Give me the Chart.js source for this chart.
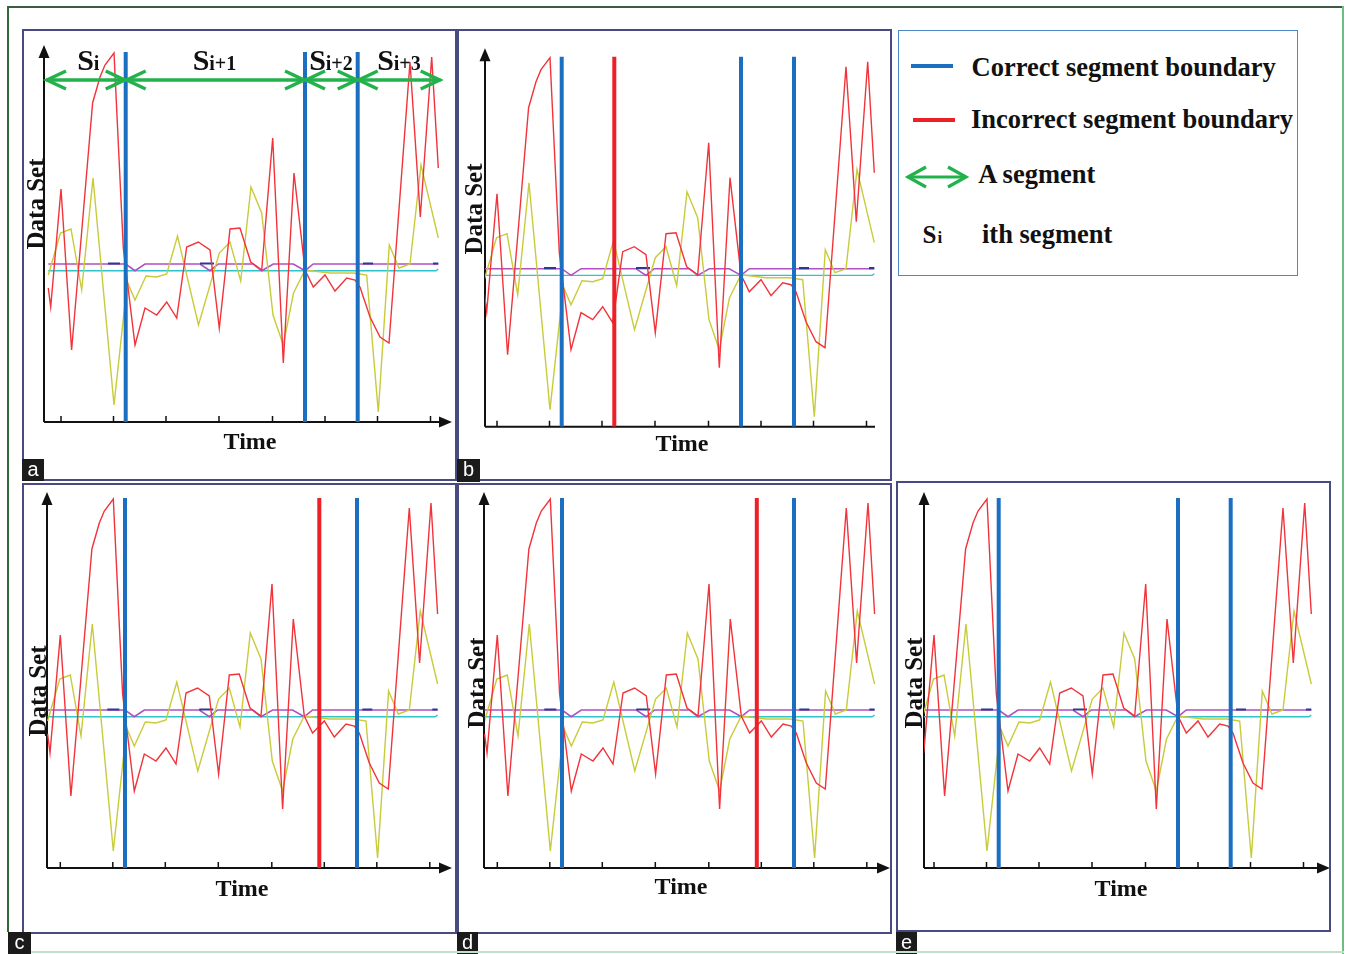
<!DOCTYPE html>
<html>
<head>
<meta charset="utf-8">
<title>Segment boundaries</title>
<script src="https://cdn.jsdelivr.net/npm/chart.js@4.4.1/dist/chart.umd.min.js"></script>
<style>
  html, body { margin: 0; padding: 0; background: #fff; }
  #page { position: relative; width: 1346px; height: 954px; overflow: hidden; background: #fff; }
  .box { position: absolute; box-sizing: border-box; pointer-events: none; }
  canvas { position: absolute; }
  .serif { position: absolute; font-family: "Liberation Serif", "Times New Roman", serif; font-weight: bold; color: #111; white-space: nowrap; line-height: 1; }
  .tag { position: absolute; background: #1b1b1b; color: #fff; font-family: "Liberation Sans", Arial, sans-serif; font-size: 20px; line-height: 21px; text-align: center; }
</style>
</head>
<body>
<div id="page"></div>
<script>
// Colores de la figura
const COLORES = {
    red: '#f2333a',
    yellow: '#c8cb3a',
    purple: '#b24fc2',
    cyan: '#2fc4cc',
    navy: '#2c3b92',
    correct: '#1c6fc0',
    wrong: '#ec2027',
    green: '#22b24c',
    axis: '#111111'
};

const redTime  = [4.3, 6.7, 17, 27.6, 38, 48.6, 56, 61, 70, 79.3, 91, 101, 112.7, 122.7, 132.7, 142.7, 154.3, 166, 175.3, 186, 196, 206.7, 217.7, 228.7, 239.3, 250, 261, 269.3, 281, 291, 302.7, 311, 316, 326, 336, 345, 366, 376.3, 387.7, 394.3];
const redValue = [134, 115, 233, 72, 194, 319, 345, 357, 369, 174, 77, 114, 107, 120, 104, 175, 180, 172, 94, 193, 194, 160, 152, 284, 59, 249, 152, 135, 147, 131, 144, 142, 135, 105, 85, 79, 360, 205, 365, 254];

const yellowTime  = [4.3, 16.5, 27, 37.7, 49, 70, 83.3, 91, 102, 112.7, 122.7, 133.5, 154.5, 175.3, 186, 196.7, 207, 217.7, 229, 239.3, 249.5, 261, 286, 309.5, 322.7, 334.3, 345.3, 355, 366, 377, 394.3];
const yellowValue = [147, 189, 193, 132, 244, 17, 140, 122, 146, 145, 148, 186, 97, 169, 180, 141, 235, 209, 107, 77, 129, 152, 149, 149, 147, 10, 177, 154, 158, 257, 184];

const purpleTime  = [4.3, 81.7, 91, 101, 156, 166, 174.3, 209.3, 217.7, 229.3, 249.3, 261, 269.3, 394.3];
const purpleValue = [158, 158, 151.3, 158, 158, 151.3, 158, 158, 151.3, 158, 158, 151.3, 158, 158];

const cyanTime  = [4.3, 392, 394.3];
const cyanValue = [151.3, 151.3, 153];

const navyTime  = [64, 76, 77, 156, 170, 171, 319, 329, 330, 389, 394.3];
const navyValue = [158.5, 158.5, null, 158.5, 158.5, null, 158.5, 158.5, null, 158.5, 158.5];

const tickTime = [17, 69.5, 122, 175, 228.5, 281, 333.5, 386.5];

// Fronteras de segmento por panel
const correctA = [81.7, 261, 313.7];
const correctB = [81.7, 261, 314];
const wrongB   = [134.3];
const correctC = [81.7, 313.7];
const wrongC   = [276];
const correctD = [81.7, 313.7];
const wrongD   = [276.5];
const correctE = [81.7, 261, 313.7];

const boundaryTop = 370;
const arrowLevel = 342;
const arrowEnds = [2, 81.7, 261, 313.7, 396.7];
const segmentNames = ['i', 'i+1', 'i+2', 'i+3'];

// Geometria de cada panel: marco [x, y, w, h], ejes [x0, x1, y0, y1]
const panels = [
    { tag: 'a', frame: [22, 29, 435, 452], axes: [44, 452, 422, 45], time: [0, 408], vmax: 377, arrowX: true,
      correct: correctA, wrong: [], arrows: true, timeLbl: [250, 440.5], dataLbl: [35, 203.5], tagBox: [22, 459, 22, 22] },
    { tag: 'b', frame: [457, 29, 435, 452], axes: [485, 875, 426.7, 48.3], time: [5, 395], vmax: 378.4, arrowX: false,
      correct: correctB, wrong: wrongB, arrows: false, timeLbl: [682, 443], dataLbl: [473, 209], tagBox: [457, 459, 23, 23] },
    { tag: 'c', frame: [22, 483, 435, 451], axes: [47, 452, 868, 492], time: [3.7, 408.7], vmax: 376, arrowX: true,
      correct: correctC, wrong: wrongC, arrows: false, timeLbl: [242, 888], dataLbl: [37, 691], tagBox: [8, 932, 23, 22] },
    { tag: 'd', frame: [457, 483, 435, 451], axes: [484, 890, 868, 492], time: [3.7, 409.7], vmax: 376, arrowX: true,
      correct: correctD, wrong: wrongD, arrows: false, timeLbl: [681, 886], dataLbl: [476, 683], tagBox: [457, 932, 21, 22] },
    { tag: 'e', frame: [896, 481, 435, 451], axes: [924, 1330, 868, 492], time: [7, 413], vmax: 376, arrowX: true,
      correct: correctE, wrong: [], arrows: false, timeLbl: [1121, 888], dataLbl: [913, 683], tagBox: [896, 932, 21, 22] }
];

const page = document.getElementById('page');

function pares(ts, vs) {
    return ts.map((t, i) => ({ x: t, y: vs[i] }));
}

function div(cls, css, html) {
    const d = document.createElement('div');
    d.className = cls;
    d.style.cssText = css;
    if (html !== undefined) d.innerHTML = html;
    page.appendChild(d);
    return d;
}

// texto colocado por su linea base (Liberation Serif, line-height 1)
function texto(str, left, baseline, size) {
    const top = baseline - 0.8375 * size;
    return div('serif', `left:${left}px;top:${top}px;font-size:${size}px;`, str);
}

/**
 * Ejes con flechas y marcas hacia arriba
 */
const ejesPlugin = {
    id: 'ejes',
    beforeDatasetsDraw(chart, args, opts) {
        const ctx = chart.ctx;
        const area = chart.chartArea;
        const xs = chart.scales.x;
        const x0 = area.left, x1 = area.right, y0 = area.bottom, y1 = area.top;
        ctx.save();
        ctx.strokeStyle = COLORES.axis;
        ctx.fillStyle = COLORES.axis;
        ctx.lineWidth = 2;
        ctx.beginPath();
        ctx.moveTo(x0, y0);
        ctx.lineTo(opts.arrowX ? x1 - 10 : x1, y0);
        ctx.moveTo(x0, y0);
        ctx.lineTo(x0, y1 + 10);
        ctx.stroke();

        ctx.beginPath();
        ctx.moveTo(x0, y1);
        ctx.lineTo(x0 - 5.5, y1 + 13);
        ctx.lineTo(x0 + 5.5, y1 + 13);
        ctx.closePath();
        ctx.fill();
        if (opts.arrowX) {
            ctx.beginPath();
            ctx.moveTo(x1, y0);
            ctx.lineTo(x1 - 13, y0 - 5.5);
            ctx.lineTo(x1 - 13, y0 + 5.5);
            ctx.closePath();
            ctx.fill();
        }

        ctx.lineWidth = 1.5;
        ctx.beginPath();
        tickTime.forEach(t => {
            const px = xs.getPixelForValue(t);
            if (px > x0 + 2 && px < x1 - 4) {
                ctx.moveTo(px, y0);
                ctx.lineTo(px, y0 - 6);
            }
        });
        ctx.stroke();
        ctx.restore();
    }
};

/**
 * Puntas abiertas de las flechas de segmento
 */
const flechasPlugin = {
    id: 'flechas',
    afterDatasetsDraw(chart) {
        const ctx = chart.ctx;
        ctx.save();
        ctx.strokeStyle = COLORES.green;
        ctx.lineWidth = 3.5;
        ctx.lineCap = 'butt';
        chart.data.datasets.forEach((ds, i) => {
            if (!ds.flecha) return;
            const pts = chart.getDatasetMeta(i).data;
            const a = pts[0], b = pts[pts.length - 1];
            ctx.beginPath();
            ctx.moveTo(a.x + 20, a.y - 9);
            ctx.lineTo(a.x + 1, a.y);
            ctx.lineTo(a.x + 20, a.y + 9);
            ctx.moveTo(b.x - 20, b.y - 9);
            ctx.lineTo(b.x - 1, b.y);
            ctx.lineTo(b.x - 20, b.y + 9);
            ctx.stroke();
        });
        ctx.restore();
    }
};

function serie(data, color, width, order) {
    return { data, borderColor: color, borderWidth: width, pointRadius: 0, fill: false, tension: 0, order, spanGaps: false };
}

panels.forEach(p => {
    const [fx, fy, fw, fh] = p.frame;
    const [x0, x1, y0, y1] = p.axes;

    const cv = document.createElement('canvas');
    cv.width = fw;
    cv.height = fh;
    cv.style.left = fx + 'px';
    cv.style.top = fy + 'px';
    page.appendChild(cv);

    const datasets = [
        serie(pares(cyanTime, cyanValue), COLORES.cyan, 1.4, 9),
        serie(pares(purpleTime, purpleValue), COLORES.purple, 1.6, 8),
        serie(pares(navyTime, navyValue), COLORES.navy, 2.2, 7),
        serie(pares(yellowTime, yellowValue), COLORES.yellow, 1.4, 6),
        serie(pares(redTime, redValue), COLORES.red, 1.4, 5)
    ];
    p.correct.forEach(b => datasets.push(serie([{ x: b, y: 0 }, { x: b, y: boundaryTop }], COLORES.correct, 4, 1)));
    p.wrong.forEach(b => datasets.push(serie([{ x: b, y: 0 }, { x: b, y: boundaryTop }], COLORES.wrong, 4, 1)));
    if (p.arrows) {
        for (let i = 0; i < arrowEnds.length - 1; i++) {
            const ds = serie([{ x: arrowEnds[i], y: arrowLevel }, { x: arrowEnds[i + 1], y: arrowLevel }], COLORES.green, 3.5, 0);
            ds.flecha = true;
            datasets.push(ds);
        }
    }

    new Chart(cv.getContext('2d'), {
        type: 'line',
        data: { datasets },
        options: {
            responsive: false,
            animation: false,
            events: [],
            layout: { padding: { left: x0 - fx, top: y1 - fy, right: fx + fw - x1, bottom: fy + fh - y0 } },
            scales: {
                x: { type: 'linear', display: false, min: p.time[0], max: p.time[1] },
                y: { type: 'linear', display: false, min: 0, max: p.vmax }
            },
            plugins: {
                legend: { display: false },
                tooltip: { enabled: false },
                ejes: { arrowX: p.arrowX }
            }
        },
        plugins: [ejesPlugin, flechasPlugin]
    });

    // marco
    div('box', `left:${fx}px;top:${fy}px;width:${fw}px;height:${fh}px;border:2px solid #4a4a82;`);
    // titulos de ejes
    div('serif', `left:${p.timeLbl[0]}px;top:${p.timeLbl[1]}px;font-size:24px;transform:translate(-50%,-50%);`, 'Time');
    div('serif', `left:${p.dataLbl[0]}px;top:${p.dataLbl[1]}px;font-size:25px;transform:translate(-50%,-50%) rotate(-90deg);`, 'Data Set');
    // letra del panel
    const [tx, ty, tw, th] = p.tagBox;
    div('tag', `left:${tx}px;top:${ty}px;width:${tw}px;height:${th}px;`, p.tag);
});

// etiquetas de segmento del panel a
const segLeft = [77.3, 192.7, 309.3, 377.3];
segmentNames.forEach((n, i) => {
    texto('S', segLeft[i], 70, 30);
    texto(n, segLeft[i] + 16.5, 70, 20);
});

// marco exterior
div('box', 'left:7px;top:6px;width:1336px;height:2px;background:#3d5a46;');
div('box', 'left:7px;top:6px;width:2px;height:926px;background:#2f6b3a;');
div('box', 'left:1342px;top:6px;width:2px;height:948px;background:#6cbf80;');
div('box', 'left:31px;top:951px;width:1313px;height:2px;background:#bfe3c7;');

// leyenda
div('box', 'left:898px;top:30px;width:400px;height:246px;border:1.5px solid #4f87c9;');
div('box', `left:911px;top:64px;width:42px;height:4px;background:${COLORES.correct};`);
div('box', `left:913px;top:118px;width:42px;height:4px;background:${COLORES.wrong};`);
div('box', 'left:904px;top:164px;width:66px;height:26px;',
    `<svg width="66" height="26" viewBox="0 0 66 26"><g fill="none" stroke="${COLORES.green}" stroke-width="3.2">
     <line x1="4" y1="13" x2="61" y2="13"/><polyline points="22,3 4,13 22,23"/><polyline points="44,3 62,13 44,23"/></g></svg>`);
texto('Correct segment boundary', 971.5, 75.7, 26.5);
texto('Incorrect segment boundary', 971, 128, 26.5);
texto('A segment', 978.3, 183, 26.5);
texto('S', 922.5, 243, 25);
texto('i', 937.5, 243, 17);
texto('ith segment', 982, 243, 26.5);
</script>
</body>
</html>
